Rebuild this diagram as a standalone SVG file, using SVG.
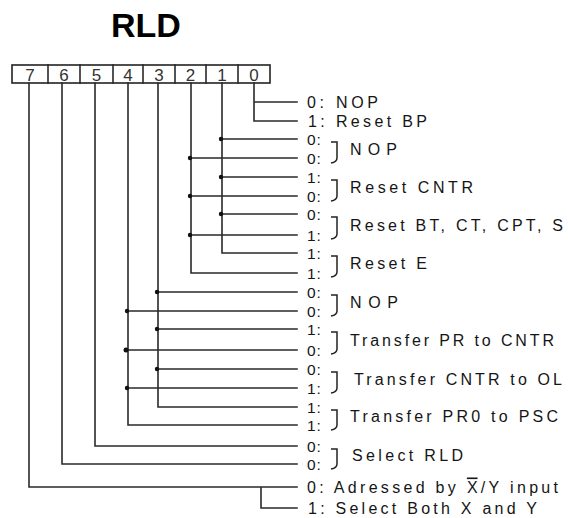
<svg xmlns="http://www.w3.org/2000/svg" width="568" height="518" viewBox="0 0 568 518">
<style>
.ln{fill:none;stroke:#2a2a2a;stroke-width:1.6;stroke-linecap:square}
.dot{fill:#111}
.t{font-family:"Liberation Sans",Arial,sans-serif;font-size:16px;fill:#151515}
.s{font-family:"Liberation Sans",Arial,sans-serif;font-size:15.5px;fill:#151515;letter-spacing:1px}
.d{font-family:"Liberation Sans",Arial,sans-serif;font-size:17px;fill:#333;text-anchor:middle}
.br{fill:none;stroke:#222;stroke-width:1.5}
</style>
<rect width="568" height="518" fill="#fff"/>
<g id="title"><text x="146" y="37" text-anchor="middle" font-family="Liberation Sans, Arial, sans-serif" font-weight="bold" font-size="34" fill="#000">RLD</text></g>
<g id="register">
<rect x="12" y="65" width="258" height="18" fill="#fff" stroke="#222" stroke-width="1.6"/>
<path class="ln" d="M48,65V83M80,65V83M113,65V83M143,65V83M175,65V83M206,65V83M238,65V83"/>
<text class="d" x="30" y="80.5">7</text>
<text class="d" x="64" y="80.5">6</text>
<text class="d" x="96.5" y="80.5">5</text>
<text class="d" x="128" y="80.5">4</text>
<text class="d" x="159" y="80.5">3</text>
<text class="d" x="190.5" y="80.5">2</text>
<text class="d" x="222" y="80.5">1</text>
<text class="d" x="254" y="80.5">0</text>
</g>
<g id="connectors">
<path class="ln" d="M254,83V121H297M254,102H297"/>
<path class="ln" d="M222,83V253H297M222,139H297M222,177H297M222,214H297"/>
<path class="ln" d="M191,83V273H297M191,158H297M191,196H297M191,235H297"/>
<path class="ln" d="M158,83V407H297M158,292H297M158,329H297M158,369H297"/>
<path class="ln" d="M128,83V425H297M128,311H297M128,350H297M128,388H297"/>
<path class="ln" d="M95,83V446H297"/>
<path class="ln" d="M62,83V464H297"/>
<path class="ln" d="M29,83V487H297M261,487V508H297"/>
<circle class="dot" cx="221" cy="139" r="2.2"/>
<circle class="dot" cx="221" cy="177" r="2.2"/>
<circle class="dot" cx="221" cy="214" r="2.2"/>
<circle class="dot" cx="190" cy="158" r="2.2"/>
<circle class="dot" cx="190" cy="196" r="2.2"/>
<circle class="dot" cx="190" cy="235" r="2.2"/>
<circle class="dot" cx="157" cy="292" r="2.2"/>
<circle class="dot" cx="157" cy="329" r="2.2"/>
<circle class="dot" cx="157" cy="369" r="2.2"/>
<circle class="dot" cx="127" cy="311" r="2.2"/>
<circle class="dot" cx="126" cy="350" r="2.5"/>
<circle class="dot" cx="127" cy="388" r="2.2"/>
</g>
<g id="bit0">
<text class="t" x="307" y="107.5" textLength="71" lengthAdjust="spacing">0: NOP</text>
<text class="t" x="308" y="126.5" textLength="119" lengthAdjust="spacing">1: Reset BP</text>
</g>
<g id="bits21-nop">
<text class="s" x="307" y="144.5">0:</text><text class="s" x="307" y="163.5">0:</text>
<path class="br" d="M331,142H337V158Q337,162 331,163"/>
<text class="t" x="350" y="155" textLength="47" lengthAdjust="spacing">NOP</text>
</g>
<g id="bits21-reset-cntr">
<text class="s" x="307" y="182.5">1:</text><text class="s" x="307" y="201.5">0:</text>
<path class="br" d="M331,180H337V196Q337,200 331,201"/>
<text class="t" x="350" y="193" textLength="123" lengthAdjust="spacing">Reset CNTR</text>
</g>
<g id="bits21-reset-bt">
<text class="s" x="307" y="219.5">0:</text><text class="s" x="307" y="240.5">1:</text>
<path class="br" d="M331,217H337V234Q337,238 331,239"/>
<text class="t" x="350" y="231" textLength="213" lengthAdjust="spacing">Reset BT, CT, CPT, S</text>
</g>
<g id="bits21-reset-e">
<text class="s" x="307" y="258.5">1:</text><text class="s" x="307" y="278.5">1:</text>
<path class="br" d="M331,256H337V272Q337,276 331,277"/>
<text class="t" x="350" y="269" textLength="77" lengthAdjust="spacing">Reset E</text>
</g>
<g id="bits43-nop">
<text class="s" x="307" y="297.5">0:</text><text class="s" x="307" y="316.5">0:</text>
<path class="br" d="M331,295H337V311Q337,315 331,316"/>
<text class="t" x="350" y="308" textLength="48" lengthAdjust="spacing">NOP</text>
</g>
<g id="bits43-pr-cntr">
<text class="s" x="307" y="334.5">1:</text><text class="s" x="307" y="355.5">0:</text>
<path class="br" d="M331,332H337V349Q337,353 331,354"/>
<text class="t" x="350" y="346" textLength="204" lengthAdjust="spacing">Transfer PR to CNTR</text>
</g>
<g id="bits43-cntr-ol">
<text class="s" x="307" y="374.5">0:</text><text class="s" x="307" y="393.5">1:</text>
<path class="br" d="M331,372H337V388Q337,392 331,393"/>
<text class="t" x="354" y="385" textLength="208" lengthAdjust="spacing">Transfer CNTR to OL</text>
</g>
<g id="bits43-pr0-psc">
<text class="s" x="307" y="412.5">1:</text><text class="s" x="307" y="430.5">1:</text>
<path class="br" d="M331,410H337V425Q337,429 331,430"/>
<text class="t" x="350" y="422" textLength="208" lengthAdjust="spacing">Transfer PR0 to PSC</text>
</g>
<g id="bits65-select">
<text class="s" x="307" y="451.5">0:</text><text class="s" x="307" y="469.5">0:</text>
<path class="br" d="M331,449H337V464Q337,468 331,469"/>
<text class="t" x="352" y="461" textLength="111" lengthAdjust="spacing">Select RLD</text>
</g>
<g id="bit7">
<text class="t" x="307" y="492.5" textLength="251" lengthAdjust="spacing">0: Adressed by <tspan text-decoration="overline">X</tspan>/Y input</text>
<text class="t" x="308" y="513.5" textLength="229" lengthAdjust="spacing">1: Select Both X and Y</text>
</g>
</svg>
